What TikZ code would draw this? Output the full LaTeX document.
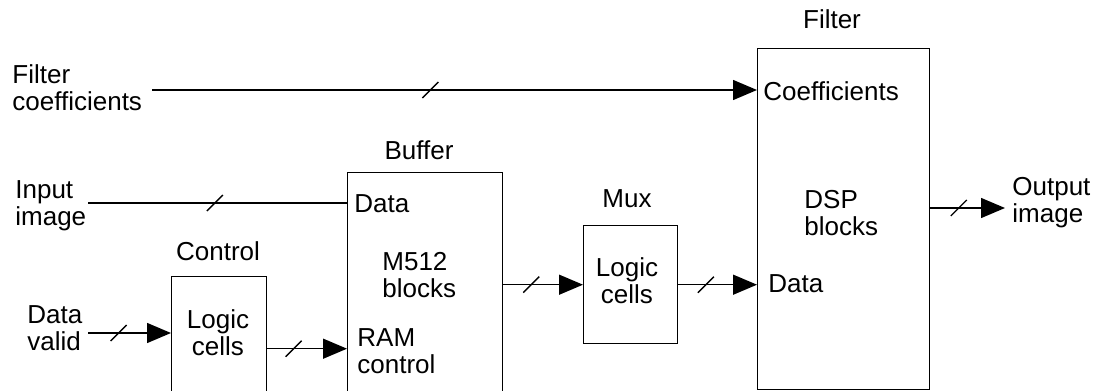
\documentclass[tikz,border=0pt]{standalone}
\usepackage{fontspec}
\setmainfont{Liberation Sans}
\usetikzlibrary{arrows.meta}

\begin{document}
\begin{tikzpicture}[x=0.5pt,y=-0.5pt,
  box/.style={draw=black,line width=.7pt,inner sep=0pt,anchor=north west},
  bus/.style={draw=black,line width=.7pt},
  feed/.style={bus,-{Triangle[length=12pt,width=10pt]}},
  lbl/.style={font=\fontsize{13}{13.2}\selectfont,align=left,inner sep=0pt,anchor=base west},
  heading/.style={font=\fontsize{13}{13.2}\selectfont,inner sep=0pt,anchor=base},
  pics/busmark/.style={code={\draw[-,line width=.7pt] (-8,8) -- (8,-8);}}]
\useasboundingbox (0,0) rectangle (1093,391);
\clip (0,0) rectangle (1093,391);

% Blocks (buffer and control run off the bottom edge).
\node[box,minimum width=86pt,minimum height=170.5pt] (filt) at (757,48) {};
\node[box,minimum width=77.5pt,minimum height=130pt] (buf) at (347,172) {};
\node[box,minimum width=47.5pt,minimum height=72pt] (ctrl) at (171,276) {};
\node[box,minimum width=47pt,minimum height=59pt] (mux) at (583,225) {};

% Block titles.
\node[heading] (filtname) at (832,28) {Filter};
\node[heading] (bufname) at (419,159) {Buffer};
\node[heading] (ctrlname) at (218,260) {Control};
\node[heading] (muxname) at (627,207) {Mux};

% Ports and contents (base = last line).
\node[lbl] (coefport) at (763,100) {Coefficients};
\node[lbl] (dsp) at (804,235) {DSP\\blocks};
\node[lbl] (dataport) at (768,292) {Data};
\node[lbl] (bufdata) at (354,212) {Data};
\node[lbl] (m512) at (382,297) {M512\\blocks};
\node[lbl] (ramctl) at (357,373) {RAM\\control};
\node[lbl,align=center,anchor=base] (ctrllogic) at (218,355) {Logic\\cells};
\node[lbl,align=center,anchor=base] (muxlogic) at (627,303) {Logic\\cells};

% Signals entering and leaving.
\node[lbl] (fcoef) at (12,110) {Filter\\coefficients};
\node[lbl] (inimg) at (15,225) {Input\\image};
\node[lbl] (dvalid) at (27,350) {Data\\valid};
\node[lbl] (outimg) at (1012,222) {Output\\image};
\coordinate (coefin) at (152,90);
\coordinate (imgin) at (88,203);
\coordinate (validin) at (88,333);
\coordinate (imgout) at (1005,208);

% Buses.
\draw[feed] (coefin) -- pic[pos=.46]{busmark} (coefin -| filt.west);
\draw[bus] (imgin) -- pic[pos=.49]{busmark} (imgin -| buf.west);
\draw[feed] (validin) -- pic[pos=.37]{busmark} (validin -| ctrl.west);
\draw[feed] (ctrl.east) -- pic[pos=.33]{busmark} (ctrl.east -| buf.west);
\draw[feed] (mux.west -| buf.east) -- pic[pos=.35]{busmark} (mux.west);
\draw[feed] (mux.east) -- pic[pos=.35]{busmark} (mux.east -| filt.west);
\draw[feed] (imgout -| filt.east) -- pic[pos=.38]{busmark} (imgout);
\end{tikzpicture}
\end{document}
